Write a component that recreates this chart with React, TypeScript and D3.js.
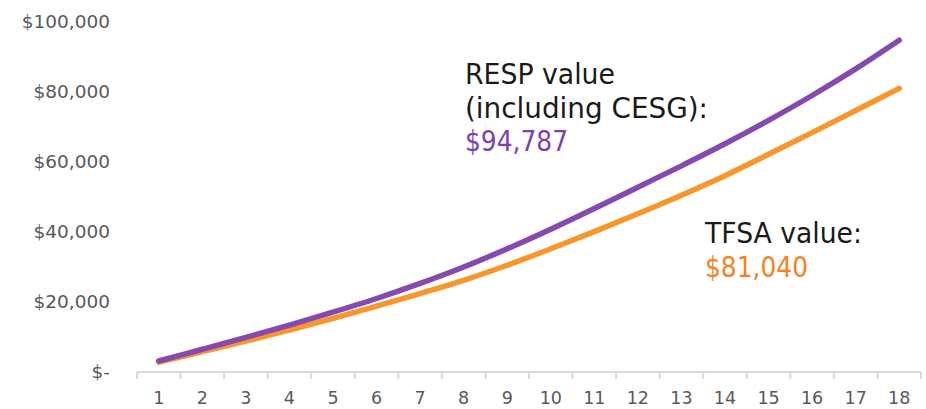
import React from "react";
import * as d3 from "d3";

const years = [1, 2, 3, 4, 5, 6, 7, 8, 9, 10, 11, 12, 13, 14, 15, 16, 17, 18];
const respValues = [3150, 6500, 9900, 13400, 17100, 21000, 25300, 30000, 35200, 40800, 46700, 52800, 58900, 65200, 71900, 79000, 86600, 94787];
const tfsaValues = [2800, 5800, 8800, 12000, 15300, 18800, 22400, 26200, 30500, 35200, 40100, 45200, 50500, 56100, 62200, 68400, 74700, 81040];
const yTicks = [0, 20000, 40000, 60000, 80000, 100000];

const W = 926;
const H = 409;
const FONT = "'DejaVu Sans', 'Liberation Sans', sans-serif";

export default function App() {
  const x = d3.scaleBand<number>().domain(years).range([137, 921]).padding(0);
  const y = d3.scaleLinear().domain([0, 100000]).range([372, 22]);
  const cx = (d: number) => (x(d) as number) + x.bandwidth() / 2;

  const line = d3
    .line<number>()
    .x((_, i) => cx(years[i]))
    .y((v) => y(v))
    .curve(d3.curveCatmullRom.alpha(0.5));

  const fmt = (v: number) => (v === 0 ? "$-" : "$" + d3.format(",")(v));
  const boundaries = d3.range(years.length + 1).map((i) => 137 + i * x.bandwidth());

  return (
    <div style={{ position: "absolute", left: 0, top: 0 }}>
      <svg width={W} height={H} style={{ display: "block", background: "#fff" }}>
        {yTicks.map((t) => (
          <text
            key={t}
            x={110}
            y={y(t)}
            dy="0.35em"
            textAnchor="end"
            fontFamily={FONT}
            fontSize={18.5}
            fill="#595959"
          >
            {fmt(t)}
          </text>
        ))}
        <line x1={137} x2={921} y1={y(0)} y2={y(0)} stroke="#d9d9d9" strokeWidth={2} />
        {boundaries.map((b, i) => (
          <line key={i} x1={b} x2={b} y1={y(0)} y2={y(0) + 7} stroke="#d9d9d9" strokeWidth={2} />
        ))}
        {years.map((yr) => (
          <text
            key={yr}
            x={cx(yr)}
            y={404}
            textAnchor="middle"
            fontFamily={FONT}
            fontSize={17.5}
            fill="#595959"
          >
            {yr}
          </text>
        ))}
        <path d={line(tfsaValues) || ""} fill="none" stroke="#F7962B" strokeWidth={5.5} strokeLinecap="round" />
        <path d={line(respValues) || ""} fill="none" stroke="#8549B0" strokeWidth={5.5} strokeLinecap="round" />
        <g fontFamily={FONT} fontSize={28}>
          <text x={465} y={84} fill="#1a1a1a" textLength={150} lengthAdjust="spacingAndGlyphs">RESP value</text>
          <text x={465} y={118} fill="#1a1a1a" textLength={243} lengthAdjust="spacingAndGlyphs">(including CESG):</text>
          <text x={465} y={151} fill="#7F3FB0" textLength={103} lengthAdjust="spacingAndGlyphs">$94,787</text>
          <text x={705} y={243} fill="#1a1a1a" textLength={157} lengthAdjust="spacingAndGlyphs">TFSA value:</text>
          <text x={705} y={277} fill="#F58220" textLength={103} lengthAdjust="spacingAndGlyphs">$81,040</text>
        </g>
      </svg>
    </div>
  );
}
